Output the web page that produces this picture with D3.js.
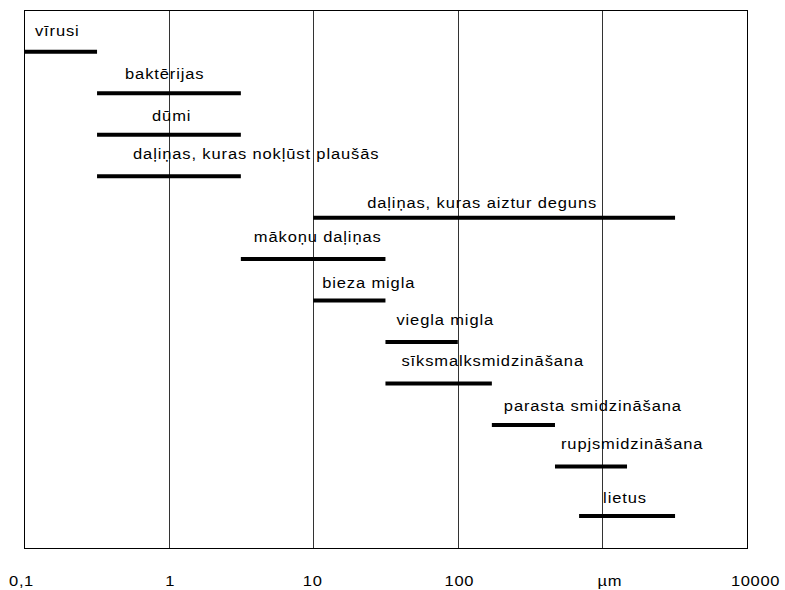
<!DOCTYPE html>
<html>
<head>
<meta charset="utf-8">
<script src="https://cdn.jsdelivr.net/npm/d3@7"></script>
<style>
body { margin: 0; background: #fff; }
svg text { font-family: "Liberation Sans", Arial, sans-serif; fill: #000; }
</style>
</head>
<body>
<svg id="plot" width="785" height="590"></svg>
<script>
// particle size ranges, in micrometres
var labels = ["vīrusi", "baktērijas", "dūmi", "daļiņas, kuras nokļūst plaušās",
  "daļiņas, kuras aiztur deguns", "mākoņu daļiņas", "bieza migla", "viegla migla",
  "sīksmalksmidzināšana", "parasta smidzināšana", "rupjsmidzināšana", "lietus"];
var minSize = [0.1, 0.32, 0.32, 0.32, 10, 3.16, 10, 31.6, 31.6, 172, 470, 690];
var maxSize = [0.32, 3.16, 3.16, 3.16, 3180, 31.6, 31.6, 100, 172, 470, 1480, 3180];
var tickValues = [0.1, 1, 10, 100, 1000, 10000];
var tickLabels = ["0,1", "1", "10", "100", "\u00b5m", "10000"];

// label placement relative to the start of each bar (layout only)
var labelDx = [11, 28, 55, 36, 54, 13, 9, 11, 16, 12, 6, 24];
var labelDy = [-16, -14, -14, -17, -10, -17, -13, -17, -18, -14, -18, -13];
var tickDx = [-3, 1, -1, 1, 7, 8];
var stretch = 1.1; // the original text is a bit wide

var svg = d3.select("#plot"),
    margin = {top: 10, right: 38, bottom: 42, left: 24},
    width = 785 - margin.left - margin.right,
    height = 590 - margin.top - margin.bottom,
    g = svg.append("g").attr("transform", "translate(" + margin.left + "," + margin.top + ")");

var x = d3.scaleLog()
  .domain([0.1, 10000])
  .range([0, width]);

var y = d3.scaleLinear()
  .domain([0, 11])
  .range([41.7, 498]);

// vertical grid lines
g.selectAll("line.grid")
  .data(tickValues.slice(1, -1))
  .enter().append("line")
  .attr("class", "grid")
  .attr("x1", function(d) { return Math.round(x(d)) + 0.5; })
  .attr("x2", function(d) { return Math.round(x(d)) + 0.5; })
  .attr("y1", 0)
  .attr("y2", height)
  .attr("stroke", "#333")
  .attr("stroke-width", 1);

// frame
g.append("rect")
  .attr("x", 0.5).attr("y", 0.5)
  .attr("width", width).attr("height", height)
  .attr("fill", "none")
  .attr("stroke", "#000")
  .attr("stroke-width", 1);

// axis labels
var xAxis = d3.axisBottom(x)
  .tickValues(tickValues)
  .tickSize(0)
  .tickPadding(0)
  .tickFormat(function(d, i) { return tickLabels[i]; });

var ax = g.append("g")
  .attr("transform", "translate(0," + (height + 38) + ")")
  .call(xAxis);
ax.select(".domain").remove();
ax.selectAll("text")
  .attr("font-family", "Liberation Sans, Arial, sans-serif")
  .attr("font-size", 15)
  .attr("letter-spacing", 0.6)
  .attr("dy", 0)
  .attr("transform", function(d, i) { return "translate(" + tickDx[i] + ",0) scale(" + stretch + ",1)"; })
  .attr("fill", "#000");

function rowY(i) {
  // the last row sits a little lower in the original
  return y(i) + (i === labels.length - 1 ? 8 : 0);
}

// range bars
g.selectAll("line.bar")
  .data(labels)
  .enter().append("line")
  .attr("class", "bar")
  .attr("x1", function(d, i) { return x(minSize[i]); })
  .attr("x2", function(d, i) { return x(maxSize[i]); })
  .attr("y1", function(d, i) { return rowY(i); })
  .attr("y2", function(d, i) { return rowY(i); })
  .attr("stroke", "#000")
  .attr("stroke-width", 4);

g.selectAll("text.lbl")
  .data(labels)
  .enter().append("text")
  .attr("class", "lbl")
  .attr("transform", function(d, i) {
    return "translate(" + (x(minSize[i]) + labelDx[i]) + "," + (rowY(i) + labelDy[i]) + ") scale(" + stretch + ",1)";
  })
  .attr("font-size", 15)
  .attr("letter-spacing", 0.8)
  .text(function(d) { return d; });
</script>
</body>
</html>
